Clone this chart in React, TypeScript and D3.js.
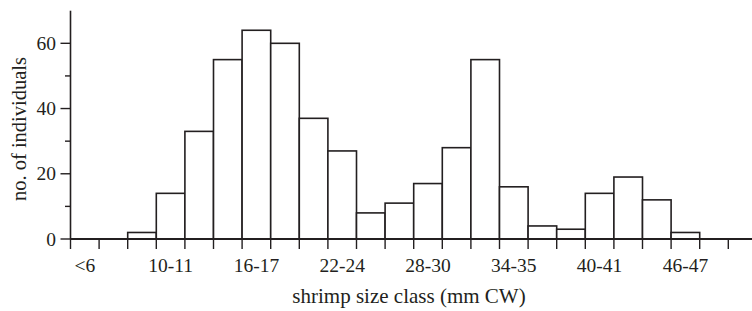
import React from "react";
import * as d3 from "d3";

const categories: string[] = [
  "<6", "6-7", "8-9", "10-11", "12-13", "14-15", "16-17", "18-19", "20-21",
  "22-24", "25-26", "26-27", "28-30", "31-33", "32-33", "34-35", "36-37", "38-39",
  "40-41", "42-43", "44-45", "46-47", ">47",
];
const counts: number[] = [
  0, 0, 2, 14, 33, 55, 64, 60, 37,
  27, 8, 11, 17, 28, 55, 16, 4, 3,
  14, 19, 12, 2, 0,
];
const shownLabels: string[] = ["<6", "10-11", "16-17", "22-24", "28-30", "34-35", "40-41", "46-47"];
const yMajorTicks: number[] = [0, 20, 40, 60];
const yMinorTicks: number[] = [10, 30, 50];

const W = 752;
const H = 311;
const INK = "#231f20";
const FONT = "'Liberation Serif', 'Times New Roman', Times, serif";
const txt = { fontFamily: FONT };

export default function App() {
  const x = d3
    .scaleBand<number>()
    .domain(d3.range(categories.length))
    .range([70.5, 728.3])
    .paddingInner(0)
    .paddingOuter(0);
  const y = d3.scaleLinear().domain([0, 70]).range([239, 10.7]);
  const bw = x.bandwidth();
  const tickXs = d3.range(categories.length + 1).map((i) => 70.5 + i * bw);

  return (
    <svg
      width={W}
      height={H}
      style={{ position: "absolute", left: 0, top: 0, background: "#fff" }}
    >
      {counts.map((v, i) =>
        v > 0 ? (
          <rect
            key={i}
            x={x(i)!}
            y={y(v)}
            width={bw}
            height={y(0) - y(v)}
            fill="#fff"
            stroke={INK}
            strokeWidth={1.6}
          />
        ) : null
      )}
      {/* y axis */}
      <line x1={70.5} x2={70.5} y1={y(70)} y2={y(0)} stroke={INK} strokeWidth={1.6} />
      {yMajorTicks.map((t) => (
        <g key={t}>
          <line x1={60.5} x2={70.5} y1={y(t)} y2={y(t)} stroke={INK} strokeWidth={1.4} />
          <text x={56} y={y(t)} dy="0.34em" textAnchor="end" fontSize={19.5} fill={INK} style={txt}>
            {t}
          </text>
        </g>
      ))}
      {yMinorTicks.map((t) => (
        <line key={t} x1={65} x2={70.5} y1={y(t)} y2={y(t)} stroke={INK} strokeWidth={1.4} />
      ))}
      {/* x axis */}
      <line x1={70} x2={W} y1={y(0)} y2={y(0)} stroke={INK} strokeWidth={2} />
      {tickXs.map((tx, i) => (
        <line key={i} x1={tx} x2={tx} y1={y(0)} y2={y(0) + 10} stroke={INK} strokeWidth={1.4} />
      ))}
      {categories.map((c, i) =>
        shownLabels.includes(c) ? (
          <text
            key={c}
            x={x(i)! + bw / 2}
            y={271.5}
            textAnchor="middle"
            fontSize={19.5}
            fill={INK}
            style={txt}
          >
            {c}
          </text>
        ) : null
      )}
      <text x={409} y={302.5} textAnchor="middle" fontSize={21} fill={INK} style={txt}>
        shrimp size class (mm CW)
      </text>
      <text
        transform={`translate(26,129) rotate(-90)`}
        textAnchor="middle"
        fontSize={20.5}
        fill={INK}
        style={txt}
      >
        no. of individuals
      </text>
    </svg>
  );
}
